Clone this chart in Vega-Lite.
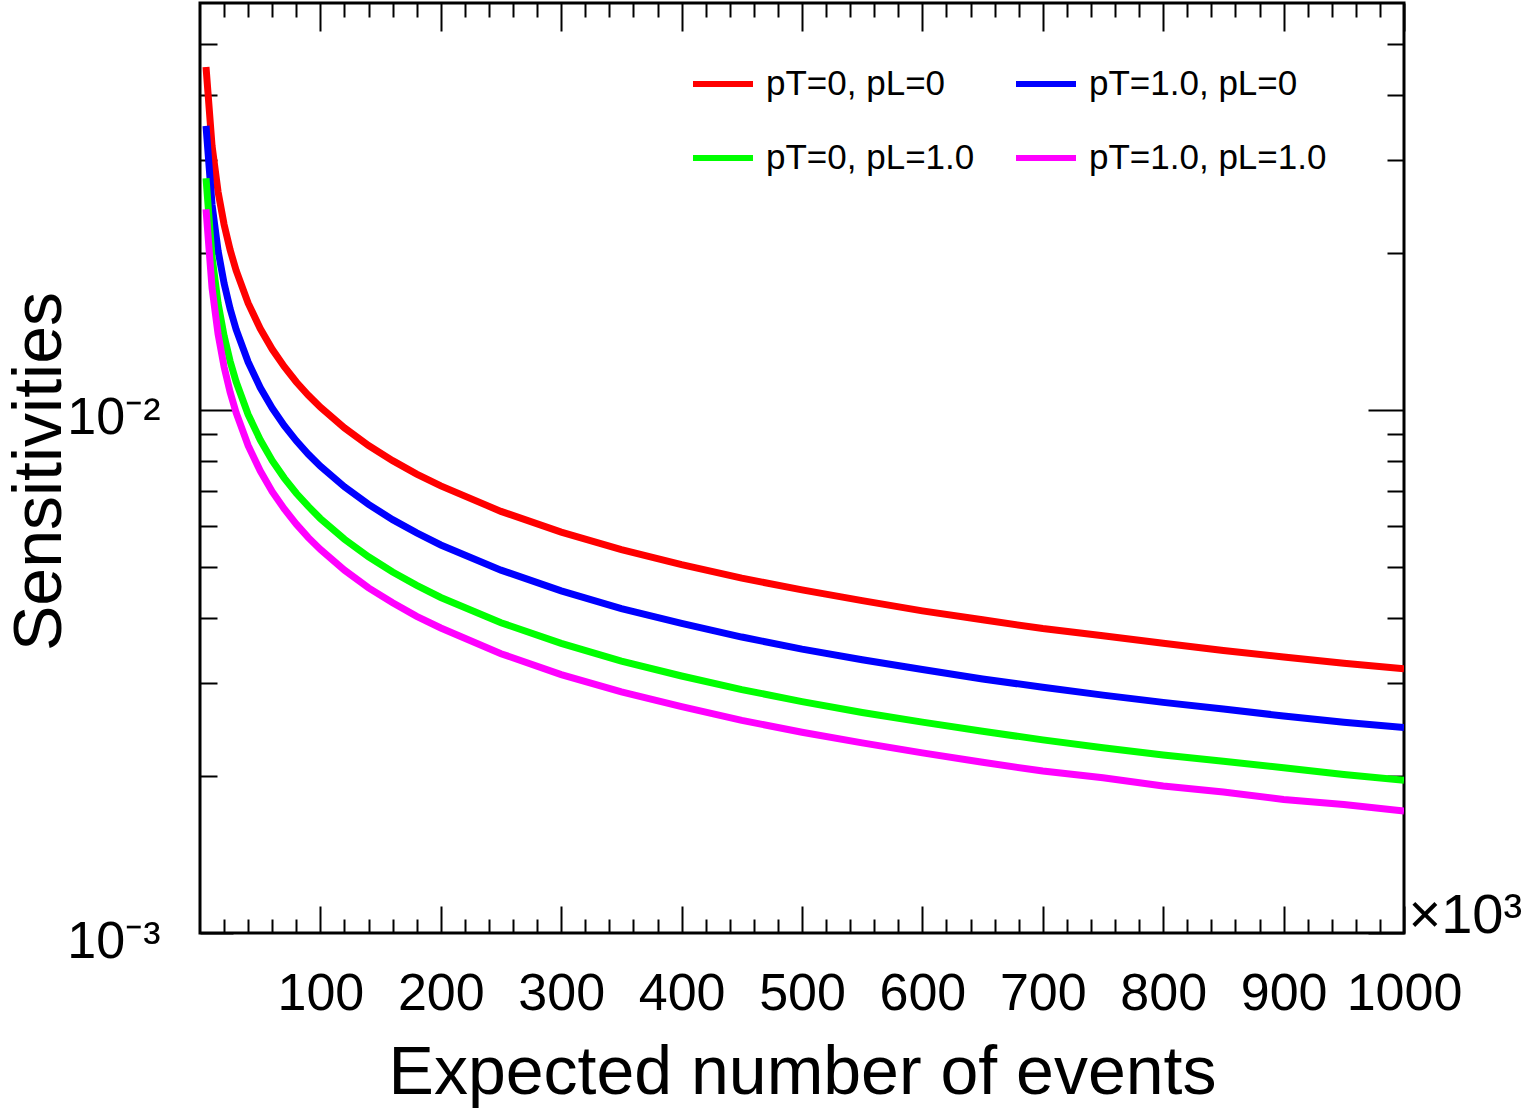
{
  "$schema": "https://vega.github.io/schema/vega-lite/v6.json",
  "width": 1204,
  "height": 930,
  "autosize": {"type": "none"},
  "padding": {"left": 200, "top": 3, "right": 120, "bottom": 178},
  "background": "white",
  "config": {
    "font": "Liberation Sans",
    "view": {"stroke": "black", "strokeWidth": 3},
    "axis": {
      "domain": false,
      "grid": false,
      "tickColor": "black",
      "tickWidth": 2,
      "labelColor": "black",
      "titleColor": "black",
      "labelFont": "Liberation Sans",
      "titleFont": "Liberation Sans",
      "titleFontWeight": "normal",
      "labelFlush": false,
      "labelOverlap": false,
      "labelBound": false
    }
  },
  "datasets": {
    "curves": [
      {"n": 5, "s": 0.04526, "series": "pT=0, pL=0"},
      {"n": 10, "s": 0.03200, "series": "pT=0, pL=0"},
      {"n": 15, "s": 0.02613, "series": "pT=0, pL=0"},
      {"n": 20, "s": 0.02263, "series": "pT=0, pL=0"},
      {"n": 25, "s": 0.02024, "series": "pT=0, pL=0"},
      {"n": 30, "s": 0.01848, "series": "pT=0, pL=0"},
      {"n": 40, "s": 0.01600, "series": "pT=0, pL=0"},
      {"n": 50, "s": 0.01431, "series": "pT=0, pL=0"},
      {"n": 60, "s": 0.01306, "series": "pT=0, pL=0"},
      {"n": 70, "s": 0.01210, "series": "pT=0, pL=0"},
      {"n": 80, "s": 0.01131, "series": "pT=0, pL=0"},
      {"n": 90, "s": 0.01067, "series": "pT=0, pL=0"},
      {"n": 100, "s": 0.01012, "series": "pT=0, pL=0"},
      {"n": 120, "s": 0.00924, "series": "pT=0, pL=0"},
      {"n": 140, "s": 0.00855, "series": "pT=0, pL=0"},
      {"n": 160, "s": 0.00800, "series": "pT=0, pL=0"},
      {"n": 180, "s": 0.00754, "series": "pT=0, pL=0"},
      {"n": 200, "s": 0.00716, "series": "pT=0, pL=0"},
      {"n": 250, "s": 0.00640, "series": "pT=0, pL=0"},
      {"n": 300, "s": 0.00584, "series": "pT=0, pL=0"},
      {"n": 350, "s": 0.00541, "series": "pT=0, pL=0"},
      {"n": 400, "s": 0.00506, "series": "pT=0, pL=0"},
      {"n": 450, "s": 0.00477, "series": "pT=0, pL=0"},
      {"n": 500, "s": 0.00453, "series": "pT=0, pL=0"},
      {"n": 550, "s": 0.00432, "series": "pT=0, pL=0"},
      {"n": 600, "s": 0.00413, "series": "pT=0, pL=0"},
      {"n": 650, "s": 0.00397, "series": "pT=0, pL=0"},
      {"n": 700, "s": 0.00382, "series": "pT=0, pL=0"},
      {"n": 750, "s": 0.00370, "series": "pT=0, pL=0"},
      {"n": 800, "s": 0.00358, "series": "pT=0, pL=0"},
      {"n": 850, "s": 0.00347, "series": "pT=0, pL=0"},
      {"n": 900, "s": 0.00337, "series": "pT=0, pL=0"},
      {"n": 950, "s": 0.00328, "series": "pT=0, pL=0"},
      {"n": 1000, "s": 0.00320, "series": "pT=0, pL=0"},
      {"n": 5, "s": 0.03493, "series": "pT=1.0, pL=0"},
      {"n": 10, "s": 0.02470, "series": "pT=1.0, pL=0"},
      {"n": 15, "s": 0.02017, "series": "pT=1.0, pL=0"},
      {"n": 20, "s": 0.01746, "series": "pT=1.0, pL=0"},
      {"n": 25, "s": 0.01562, "series": "pT=1.0, pL=0"},
      {"n": 30, "s": 0.01426, "series": "pT=1.0, pL=0"},
      {"n": 40, "s": 0.01235, "series": "pT=1.0, pL=0"},
      {"n": 50, "s": 0.01104, "series": "pT=1.0, pL=0"},
      {"n": 60, "s": 0.01008, "series": "pT=1.0, pL=0"},
      {"n": 70, "s": 0.00933, "series": "pT=1.0, pL=0"},
      {"n": 80, "s": 0.00873, "series": "pT=1.0, pL=0"},
      {"n": 90, "s": 0.00823, "series": "pT=1.0, pL=0"},
      {"n": 100, "s": 0.00781, "series": "pT=1.0, pL=0"},
      {"n": 120, "s": 0.00713, "series": "pT=1.0, pL=0"},
      {"n": 140, "s": 0.00660, "series": "pT=1.0, pL=0"},
      {"n": 160, "s": 0.00617, "series": "pT=1.0, pL=0"},
      {"n": 180, "s": 0.00582, "series": "pT=1.0, pL=0"},
      {"n": 200, "s": 0.00552, "series": "pT=1.0, pL=0"},
      {"n": 250, "s": 0.00494, "series": "pT=1.0, pL=0"},
      {"n": 300, "s": 0.00451, "series": "pT=1.0, pL=0"},
      {"n": 350, "s": 0.00417, "series": "pT=1.0, pL=0"},
      {"n": 400, "s": 0.00391, "series": "pT=1.0, pL=0"},
      {"n": 450, "s": 0.00368, "series": "pT=1.0, pL=0"},
      {"n": 500, "s": 0.00349, "series": "pT=1.0, pL=0"},
      {"n": 550, "s": 0.00333, "series": "pT=1.0, pL=0"},
      {"n": 600, "s": 0.00319, "series": "pT=1.0, pL=0"},
      {"n": 650, "s": 0.00306, "series": "pT=1.0, pL=0"},
      {"n": 700, "s": 0.00295, "series": "pT=1.0, pL=0"},
      {"n": 750, "s": 0.00285, "series": "pT=1.0, pL=0"},
      {"n": 800, "s": 0.00276, "series": "pT=1.0, pL=0"},
      {"n": 850, "s": 0.00268, "series": "pT=1.0, pL=0"},
      {"n": 900, "s": 0.00260, "series": "pT=1.0, pL=0"},
      {"n": 950, "s": 0.00253, "series": "pT=1.0, pL=0"},
      {"n": 1000, "s": 0.00247, "series": "pT=1.0, pL=0"},
      {"n": 5, "s": 0.02773, "series": "pT=0, pL=1.0"},
      {"n": 10, "s": 0.01961, "series": "pT=0, pL=1.0"},
      {"n": 15, "s": 0.01601, "series": "pT=0, pL=1.0"},
      {"n": 20, "s": 0.01386, "series": "pT=0, pL=1.0"},
      {"n": 25, "s": 0.01240, "series": "pT=0, pL=1.0"},
      {"n": 30, "s": 0.01132, "series": "pT=0, pL=1.0"},
      {"n": 40, "s": 0.00980, "series": "pT=0, pL=1.0"},
      {"n": 50, "s": 0.00877, "series": "pT=0, pL=1.0"},
      {"n": 60, "s": 0.00800, "series": "pT=0, pL=1.0"},
      {"n": 70, "s": 0.00741, "series": "pT=0, pL=1.0"},
      {"n": 80, "s": 0.00693, "series": "pT=0, pL=1.0"},
      {"n": 90, "s": 0.00654, "series": "pT=0, pL=1.0"},
      {"n": 100, "s": 0.00620, "series": "pT=0, pL=1.0"},
      {"n": 120, "s": 0.00566, "series": "pT=0, pL=1.0"},
      {"n": 140, "s": 0.00524, "series": "pT=0, pL=1.0"},
      {"n": 160, "s": 0.00490, "series": "pT=0, pL=1.0"},
      {"n": 180, "s": 0.00462, "series": "pT=0, pL=1.0"},
      {"n": 200, "s": 0.00438, "series": "pT=0, pL=1.0"},
      {"n": 250, "s": 0.00392, "series": "pT=0, pL=1.0"},
      {"n": 300, "s": 0.00358, "series": "pT=0, pL=1.0"},
      {"n": 350, "s": 0.00331, "series": "pT=0, pL=1.0"},
      {"n": 400, "s": 0.00310, "series": "pT=0, pL=1.0"},
      {"n": 450, "s": 0.00292, "series": "pT=0, pL=1.0"},
      {"n": 500, "s": 0.00277, "series": "pT=0, pL=1.0"},
      {"n": 550, "s": 0.00264, "series": "pT=0, pL=1.0"},
      {"n": 600, "s": 0.00253, "series": "pT=0, pL=1.0"},
      {"n": 650, "s": 0.00243, "series": "pT=0, pL=1.0"},
      {"n": 700, "s": 0.00234, "series": "pT=0, pL=1.0"},
      {"n": 750, "s": 0.00226, "series": "pT=0, pL=1.0"},
      {"n": 800, "s": 0.00219, "series": "pT=0, pL=1.0"},
      {"n": 850, "s": 0.00213, "series": "pT=0, pL=1.0"},
      {"n": 900, "s": 0.00207, "series": "pT=0, pL=1.0"},
      {"n": 950, "s": 0.00201, "series": "pT=0, pL=1.0"},
      {"n": 1000, "s": 0.00196, "series": "pT=0, pL=1.0"},
      {"n": 5, "s": 0.02419, "series": "pT=1.0, pL=1.0"},
      {"n": 10, "s": 0.01711, "series": "pT=1.0, pL=1.0"},
      {"n": 15, "s": 0.01397, "series": "pT=1.0, pL=1.0"},
      {"n": 20, "s": 0.01210, "series": "pT=1.0, pL=1.0"},
      {"n": 25, "s": 0.01082, "series": "pT=1.0, pL=1.0"},
      {"n": 30, "s": 0.00988, "series": "pT=1.0, pL=1.0"},
      {"n": 40, "s": 0.00855, "series": "pT=1.0, pL=1.0"},
      {"n": 50, "s": 0.00765, "series": "pT=1.0, pL=1.0"},
      {"n": 60, "s": 0.00698, "series": "pT=1.0, pL=1.0"},
      {"n": 70, "s": 0.00647, "series": "pT=1.0, pL=1.0"},
      {"n": 80, "s": 0.00605, "series": "pT=1.0, pL=1.0"},
      {"n": 90, "s": 0.00570, "series": "pT=1.0, pL=1.0"},
      {"n": 100, "s": 0.00541, "series": "pT=1.0, pL=1.0"},
      {"n": 120, "s": 0.00494, "series": "pT=1.0, pL=1.0"},
      {"n": 140, "s": 0.00457, "series": "pT=1.0, pL=1.0"},
      {"n": 160, "s": 0.00428, "series": "pT=1.0, pL=1.0"},
      {"n": 180, "s": 0.00403, "series": "pT=1.0, pL=1.0"},
      {"n": 200, "s": 0.00383, "series": "pT=1.0, pL=1.0"},
      {"n": 250, "s": 0.00342, "series": "pT=1.0, pL=1.0"},
      {"n": 300, "s": 0.00312, "series": "pT=1.0, pL=1.0"},
      {"n": 350, "s": 0.00289, "series": "pT=1.0, pL=1.0"},
      {"n": 400, "s": 0.00271, "series": "pT=1.0, pL=1.0"},
      {"n": 450, "s": 0.00255, "series": "pT=1.0, pL=1.0"},
      {"n": 500, "s": 0.00242, "series": "pT=1.0, pL=1.0"},
      {"n": 550, "s": 0.00231, "series": "pT=1.0, pL=1.0"},
      {"n": 600, "s": 0.00221, "series": "pT=1.0, pL=1.0"},
      {"n": 650, "s": 0.00212, "series": "pT=1.0, pL=1.0"},
      {"n": 700, "s": 0.00204, "series": "pT=1.0, pL=1.0"},
      {"n": 750, "s": 0.00198, "series": "pT=1.0, pL=1.0"},
      {"n": 800, "s": 0.00191, "series": "pT=1.0, pL=1.0"},
      {"n": 850, "s": 0.00186, "series": "pT=1.0, pL=1.0"},
      {"n": 900, "s": 0.00180, "series": "pT=1.0, pL=1.0"},
      {"n": 950, "s": 0.00176, "series": "pT=1.0, pL=1.0"},
      {"n": 1000, "s": 0.00171, "series": "pT=1.0, pL=1.0"}
    ]
  },
  "data": {"name": "curves"},
  "layer": [
    {
      "mark": {"type": "point", "opacity": 0, "size": 1},
      "encoding": {
        "x": {
          "field": "n", "type": "quantitative",
          "scale": {"domain": [0, 1000], "nice": false, "zero": false},
          "axis": {
            "orient": "bottom", "ticks": false, "tickSize": 0, "format": "d",
            "values": [100, 200, 300, 400, 500, 600, 700, 800, 900, 1000],
            "labelFontSize": 52, "labelBaseline": "alphabetic", "labelAlign": "center", "labelPadding": 76,
            "title": "Expected number of events", "titleFontSize": 68,
            "titleX": 602, "titleY": 160, "titleAlign": "center", "titleBaseline": "alphabetic"
          }
        },
        "y": {
          "field": "s", "type": "quantitative",
          "scale": {"type": "log", "domain": [0.001, 0.06], "nice": false},
          "axis": {
            "orient": "left", "ticks": false, "tickSize": 0,
            "values": [0.001, 0.01],
            "labelExpr": "datum.value < 0.005 ? '10⁻³' : '10⁻²'",
            "labelFontSize": 52, "labelAlign": "right", "labelBaseline": "alphabetic", "labelPadding": 40, "labelOffset": 24,
            "title": "Sensitivities", "titleFontSize": 68, "titleAngle": -90,
            "titleX": -140, "titleY": 468, "titleAlign": "center", "titleBaseline": "alphabetic"
          }
        }
      }
    },
    {
      "mark": {"type": "point", "opacity": 0, "size": 1},
      "encoding": {
        "x": {
          "field": "n", "type": "quantitative",
          "scale": {"domain": [0, 1000], "nice": false, "zero": false},
          "axis": {
            "orient": "bottom", "labels": false, "tickSize": -27,
            "values": [100, 200, 300, 400, 500, 600, 700, 800, 900, 1000],
            "title": null
          }
        },
        "y": {
          "field": "s", "type": "quantitative",
          "scale": {"type": "log", "domain": [0.001, 0.06], "nice": false},
          "axis": {
            "orient": "left", "labels": false, "tickSize": -33,
            "values": [0.001, 0.01],
            "title": null
          }
        }
      }
    },
    {
      "mark": {"type": "point", "opacity": 0, "size": 1},
      "encoding": {
        "x": {
          "field": "n", "type": "quantitative",
          "scale": {"domain": [0, 1000], "nice": false, "zero": false},
          "axis": {
            "orient": "bottom", "labels": false, "tickSize": -14,
            "values": [20, 40, 60, 80, 120, 140, 160, 180, 220, 240, 260, 280, 320, 340, 360, 380, 420, 440, 460, 480, 520, 540, 560, 580, 620, 640, 660, 680, 720, 740, 760, 780, 820, 840, 860, 880, 920, 940, 960, 980],
            "title": "×10³", "titleFontSize": 56,
            "titleX": 1208, "titleY": -1, "titleAlign": "left", "titleBaseline": "alphabetic"
          }
        },
        "y": {
          "field": "s", "type": "quantitative",
          "scale": {"type": "log", "domain": [0.001, 0.06], "nice": false},
          "axis": {
            "orient": "left", "labels": false, "tickSize": -17,
            "values": [0.002, 0.003, 0.004, 0.005, 0.006, 0.007, 0.008, 0.009, 0.02, 0.03, 0.04, 0.05],
            "title": null
          }
        }
      }
    },
    {
      "mark": {"type": "point", "opacity": 0, "size": 1},
      "encoding": {
        "x": {
          "field": "n", "type": "quantitative",
          "scale": {"domain": [0, 1000], "nice": false, "zero": false},
          "axis": {
            "orient": "top", "labels": false, "tickSize": -28,
            "values": [100, 200, 300, 400, 500, 600, 700, 800, 900, 1000],
            "title": null
          }
        },
        "y": {
          "field": "s", "type": "quantitative",
          "scale": {"type": "log", "domain": [0.001, 0.06], "nice": false},
          "axis": {
            "orient": "right", "labels": false, "tickSize": -36,
            "values": [0.001, 0.01],
            "title": null
          }
        }
      }
    },
    {
      "mark": {"type": "point", "opacity": 0, "size": 1},
      "encoding": {
        "x": {
          "field": "n", "type": "quantitative",
          "scale": {"domain": [0, 1000], "nice": false, "zero": false},
          "axis": {
            "orient": "top", "labels": false, "tickSize": -14,
            "values": [20, 40, 60, 80, 120, 140, 160, 180, 220, 240, 260, 280, 320, 340, 360, 380, 420, 440, 460, 480, 520, 540, 560, 580, 620, 640, 660, 680, 720, 740, 760, 780, 820, 840, 860, 880, 920, 940, 960, 980],
            "title": null
          }
        },
        "y": {
          "field": "s", "type": "quantitative",
          "scale": {"type": "log", "domain": [0.001, 0.06], "nice": false},
          "axis": {
            "orient": "right", "labels": false, "tickSize": -17,
            "values": [0.002, 0.003, 0.004, 0.005, 0.006, 0.007, 0.008, 0.009, 0.02, 0.03, 0.04, 0.05],
            "title": null
          }
        }
      }
    },
    {
      "mark": {"type": "line", "strokeWidth": 7, "clip": true},
      "encoding": {
        "x": {"field": "n", "type": "quantitative", "scale": {"domain": [0, 1000], "nice": false, "zero": false}, "axis": null},
        "y": {"field": "s", "type": "quantitative", "scale": {"type": "log", "domain": [0.001, 0.06], "nice": false}, "axis": null},
        "color": {
          "field": "series", "type": "nominal",
          "scale": {
            "domain": ["pT=0, pL=0", "pT=0, pL=1.0", "pT=1.0, pL=0", "pT=1.0, pL=1.0"],
            "range": ["#ff0000", "#00ff00", "#0000ff", "#ff00ff"]
          },
          "legend": {
            "orient": "none", "legendX": 490, "legendY": 48, "columns": 2, "title": null,
            "symbolType": "stroke", "symbolSize": 3600, "symbolStrokeWidth": 6,
            "labelFontSize": 35, "labelFont": "Liberation Sans", "labelColor": "black", "labelBaseline": "middle",
            "labelOffset": 10, "labelLimit": 400, "rowPadding": 23, "columnPadding": 29, "padding": 0
          }
        }
      }
    }
  ],
  "resolve": {"axis": {"x": "independent", "y": "independent"}}
}
